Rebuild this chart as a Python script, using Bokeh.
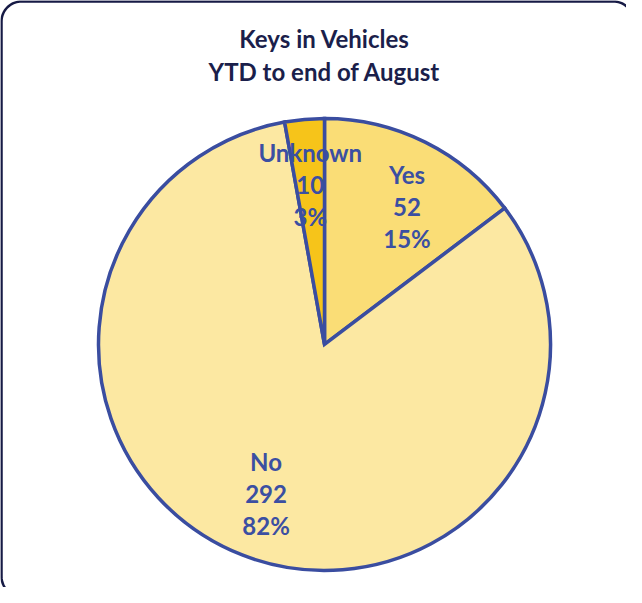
import numpy as np
from bokeh.plotting import figure
from bokeh.models import Range1d, ColumnDataSource, Label
from bokeh.core.properties import value
from bokeh.embed import file_html
from bokeh.resources import INLINE

# ---- data ----
categories = ["Yes", "No", "Unknown"]
counts = [52, 292, 10]
colors = ["#FADD76", "#FCE8A2", "#F6C41A"]
title_lines = ["Keys in Vehicles", "YTD to end of August"]

W, H = 626, 587
p = figure(width=W, height=H, output_backend="svg", toolbar_location=None,
           x_range=Range1d(0, W), y_range=Range1d(0, H), min_border=0,
           outline_line_color=None, background_fill_color="white",
           border_fill_color="white")
p.axis.visible = False
p.grid.visible = False

cx, cy, R = 324, 243, 226
total = sum(counts)
frac = np.array(counts) / total
cum = np.concatenate([[0], np.cumsum(frac)])
start = np.pi / 2 - cum[:-1] * 2 * np.pi
end = np.pi / 2 - cum[1:] * 2 * np.pi
mid = (start + end) / 2

src = ColumnDataSource(dict(cat=categories, start=start, end=end, color=colors))
p.wedge(x=cx, y=cy, radius=R, start_angle="start", end_angle="end",
        direction="clock", fill_color="color", line_color="#3A4DA0",
        line_width=3.5, line_join="miter", source=src)

# label placement (Excel-like, slightly adjusted per slice)
lab_r = 0.71 * R
angle_shift = np.radians([-4.5, 0, 0])
lx = cx + lab_r * np.cos(mid + angle_shift)
ly = cy + lab_r * np.sin(mid + angle_shift)
pct = [f"{round(f*100):d}%" for f in frac]
lsrc = ColumnDataSource(dict(x=lx, y=ly, name=categories,
                             cnt=[str(c) for c in counts], pct=pct))
for col, off in [("name", -32), ("cnt", 0), ("pct", 32)]:
    p.text(x="x", y="y", text=col, y_offset=off, source=lsrc,
           text_font=value("Lato"), text_font_style="bold",
           text_font_size="24px", text_color="#3B4FA2",
           text_align="center", text_baseline="middle")

# title
for i, t in enumerate(title_lines):
    p.add_layout(Label(x=cx, y=549 - 33 * i, text=t, text_font="Lato",
                       text_font_style="bold", text_font_size="24px",
                       text_color="#1B1F4B", text_align="center",
                       text_baseline="middle"))

# rounded border (partly outside the visible frame, like the reference)
l, r, b, t, rad = 1, 633, -9, 586, 20
def arc(xc, yc, a0, a1):
    a = np.linspace(a0, a1, 20)
    return xc + rad * np.cos(a), yc + rad * np.sin(a)
pts = [arc(r - rad, t - rad, 0, np.pi / 2), arc(l + rad, t - rad, np.pi / 2, np.pi),
       arc(l + rad, b + rad, np.pi, 1.5 * np.pi), arc(r - rad, b + rad, 1.5 * np.pi, 2 * np.pi)]
bx = np.concatenate([q[0] for q in pts] + [[pts[0][0][0]]])
by = np.concatenate([q[1] for q in pts] + [[pts[0][1][0]]])
p.line(bx, by, line_color="#161A45", line_width=2.5)

open("out.html", "w").write(file_html(p, INLINE))
